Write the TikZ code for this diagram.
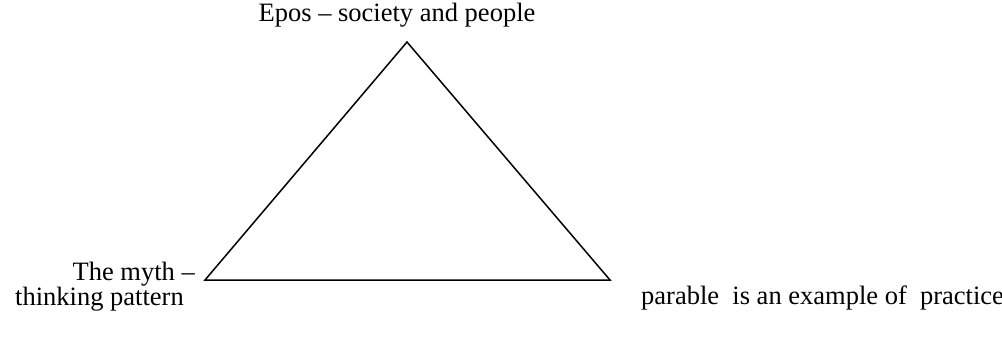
\documentclass[tikz,border=0pt]{standalone}
\usepackage{fontspec}
\setmainfont{Liberation Serif}
\begin{document}
\begin{tikzpicture}[x=1pt,y=-1pt,
  lbl/.style={inner sep=0pt,font=\fontsize{26.5}{30}\selectfont},
  edge/.style={line width=1.5pt,line join=miter}]
\useasboundingbox (0,0) rectangle (1002,351);
\coordinate (top) at (407,42);
\coordinate (bl) at (205,280);
\coordinate (br) at (610,280);
\draw[edge] (top) -- (bl) -- (br) -- cycle;
\node[lbl,anchor=base] (epos) at (397,21) {Epos – society and people};
\node[lbl,anchor=base east] (myth1) at (195,280) {The myth –};
\node[lbl,anchor=base west] (myth2) at (15,305) {thinking pattern};
\node[lbl,anchor=base west] (par) at (641,304) {parable\ \ is an example of\ \ practice};
\end{tikzpicture}
\end{document}
